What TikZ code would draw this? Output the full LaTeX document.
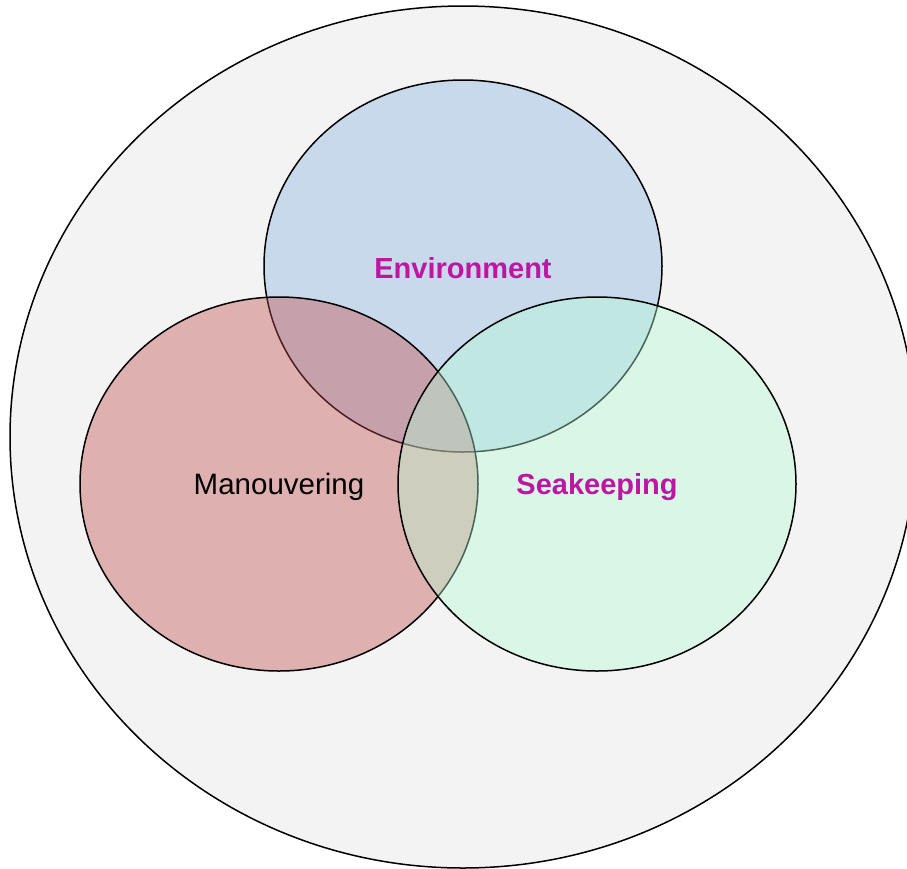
\documentclass[tikz,border=0pt]{standalone}
\usepackage{fontspec}
\setmainfont{Liberation Sans}
\definecolor{universe}{RGB}{243,243,243}
\definecolor{envblue}{RGB}{201,217,236}
\definecolor{manred}{RGB}{194,77,77}
\definecolor{seagreen}{RGB}{182,252,212}
\definecolor{labelmag}{RGB}{188,22,162}
\tikzset{
  setline/.style={draw=black, line width=1.5pt},
  labeltext/.style={font=\fontsize{29.5}{34}\selectfont, inner sep=0pt, anchor=center},
  boldlabel/.style={labeltext, text=labelmag, font=\fontsize{29}{34}\selectfont\bfseries},
}
\begin{document}
\begin{tikzpicture}[x=1pt,y=-1pt]
  \useasboundingbox (0,0) rectangle (907,868);
  \begin{scope}
    \clip (0,0) rectangle (907,868);
    % outer set
    \draw[setline, fill=universe] (463,437) ellipse [x radius=453, y radius=431];
  \end{scope}
  % the three overlapping sets
  \draw[setline, fill=envblue] (463,266) ellipse [x radius=199, y radius=186];
  \draw[setline, fill=manred, fill opacity=0.4] (279,484) ellipse [x radius=199, y radius=187];
  \draw[setline, fill=seagreen, fill opacity=0.4] (597,484) ellipse [x radius=199, y radius=187];
  % labels
  \node[boldlabel] (env) at (463,268) {Environment};
  \node[labeltext, text=black] (man) at (279,487) {Manouvering};
  \node[boldlabel] (sea) at (597,487) {Seakeeping};
\end{tikzpicture}
\end{document}
